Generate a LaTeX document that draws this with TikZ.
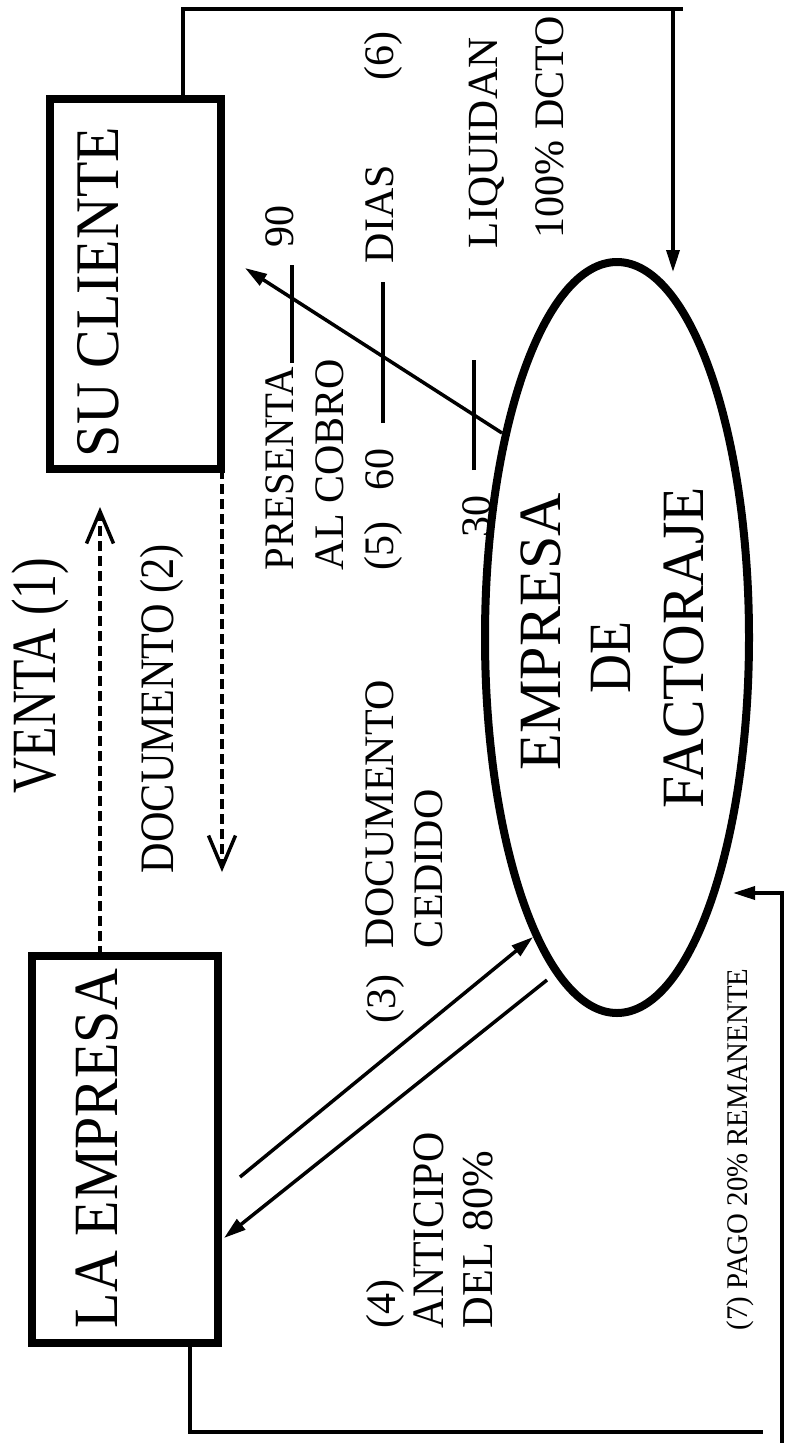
\documentclass[tikz,border=0pt]{standalone}
\usepackage{fontspec}
\setmainfont{Liberation Serif}
\usepackage{graphicx}
\usetikzlibrary{shapes.geometric,arrows.meta}
\newcommand{\myfs}[1]{\fontsize{#1}{#1}\selectfont}
\tikzset{
 thickbox/.style={draw, line width=8pt, inner sep=0pt, outer sep=0pt},
 lbl/.style={rotate=90, anchor=base west, inner sep=0pt, outer sep=0pt},
 conn/.style={line width=3.5pt},
 tri/.style={-{Triangle[length=22pt,width=13pt]}},
 dsh/.style={line width=3.5pt, dash pattern=on 10pt off 5pt, -{Straight Barb[length=32pt,width=27pt,line width=3.5pt]}},
 rulestroke/.style={line width=4pt}
}
\begin{document}
\begin{tikzpicture}[x=1pt,y=-1pt]
\useasboundingbox (0,0) rectangle (787,1443);
% main shapes
\node[thickbox, minimum width=171pt, minimum height=370pt] (cliente) at (135.5,284) {};
\node[thickbox, minimum width=186pt, minimum height=387pt] (empresa) at (125,1149.5) {};
% labels
\node[lbl, font=\myfs{62}] (tcl) at (118,457) {\scalebox{0.935}[1]{SU CLIENTE}};
\node[lbl, font=\myfs{63}] (tem) at (117,1328) {\scalebox{0.92}[1]{LA EMPRESA}};
\node[lbl, font=\myfs{60}] (f1) at (560,770) {EMPRESA};
\node[lbl, font=\myfs{60}] (f2) at (630,693) {\scalebox{0.9}[1]{DE}};
\node[lbl, font=\myfs{60}] (f3) at (703,808) {\scalebox{0.96}[1]{FACTORAJE}};
\node[lbl, font=\myfs{63}] (venta) at (55,793) {\scalebox{0.79}[1]{VENTA (1)}};
\node[lbl, font=\myfs{48}] (doc2) at (173,873) {\scalebox{0.88}[1]{DOCUMENTO (2)}};
\node[lbl, font=\myfs{42}] (pres) at (293,570) {\scalebox{0.97}[1]{PRESENTA}};
\node[lbl, font=\myfs{42}] (n90) at (293,247) {90};
\node[lbl, font=\myfs{42}] (alc) at (343,570) {AL COBRO};
\node[lbl, font=\myfs{42}] (n5) at (393,570) {(5)};
\node[lbl, font=\myfs{42}] (n60) at (393,490) {60};
\node[lbl, font=\myfs{42}] (dias) at (393,263) {DIAS};
\node[lbl, font=\myfs{42}] (n6) at (393,80) {(6)};
\node[lbl, font=\myfs{42}] (n30) at (490,537) {30};
\node[lbl, font=\myfs{43}] (liq) at (497,248) {LIQUIDAN};
\node[lbl, font=\myfs{42}] (dcto) at (563,238) {100\% DCTO};
\node[lbl, font=\myfs{42}] (n3) at (395,1023) {(3)};
\node[lbl, font=\myfs{42}] (docc) at (393,948) {DOCUMENTO};
\node[lbl, font=\myfs{42}] (ced) at (442,948) {CEDIDO};
\node[lbl, font=\myfs{42}] (n4) at (395,1328) {(4)};
\node[lbl, font=\myfs{45}] (ant) at (443,1328) {\scalebox{0.93}[1]{ANTICIPO}};
\node[lbl, font=\myfs{44}] (del) at (492,1328) {DEL 80\%};
\node[lbl, font=\myfs{30}] (pago) at (747,1330) {\scalebox{0.96}[1]{(7) PAGO 20\% REMANENTE}};
% ellipse
\node[ellipse, draw, line width=8pt, inner sep=0pt, outer sep=0pt, minimum width=264pt, minimum height=751pt] (fact) at (617,637.5) {};
% rules inside the day scale
\coordinate (r1a) at (292,363); \coordinate (r1b) at (292,265);
\coordinate (r2a) at (383,423); \coordinate (r2b) at (383,282);
\coordinate (r3a) at (474,470); \coordinate (r3b) at (474,360);
\draw[rulestroke] (r1a) -- (r1b);
\draw[rulestroke] (r2a) -- (r2b);
\draw[rulestroke] (r3a) -- (r3b);
% coordinates for connectors
\coordinate (k1) at (183,9); \coordinate (k2) at (683,9);
\coordinate (k3) at (673,9); \coordinate (k4) at (673,272);
\coordinate (a5s) at (502,433); \coordinate (a5e) at (245,268);
\coordinate (a3s) at (240,1177); \coordinate (a3e) at (533,937);
\coordinate (a4s) at (547,980); \coordinate (a4e) at (224,1238);
\coordinate (v) at (100,507); \coordinate (d) at (222,872);
\coordinate (b1) at (190,1432); \coordinate (b2) at (763,1432);
\coordinate (r0) at (782,1443); \coordinate (rc) at (782,893); \coordinate (rt) at (733,893);
% connectors
\draw[conn] (cliente.north -| k1) -- (k1) -- (k2);
\draw[conn, tri] (k3) -- (k4);
\draw[conn, tri] (a5s) -- (a5e);
\draw[conn, tri] (a3s) -- (a3e);
\draw[conn, tri] (a4s) -- (a4e);
\draw[dsh] (empresa.north -| v) -- (v);
\draw[dsh] (cliente.south -| d) -- (d);
\draw[conn] (empresa.south -| b1) -- (b1) -- (b2);
\draw[conn, tri] (r0) -- (rc) -- (rt);
\end{tikzpicture}
\end{document}
